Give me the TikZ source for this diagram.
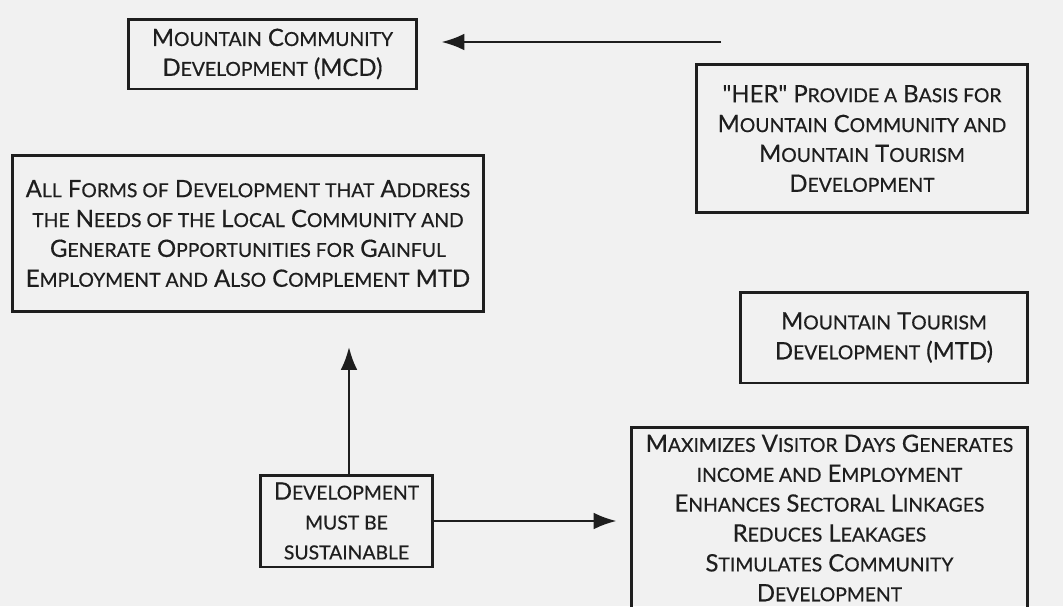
\documentclass[tikz,border=0pt]{standalone}
\usepackage{fontspec}
\setmainfont{Lato}
\newfontfamily\boxfont{Lato}[FakeBold=0.5]
\usetikzlibrary{arrows.meta}

\definecolor{paper}{RGB}{241,241,241}
\definecolor{ink}{RGB}{30,30,30}

% small caps by hand: capitals at full size, the rest smaller
\newcommand\lc[1]{{\fontsize{11}{17}\selectfont #1}}

\tikzset{
  box/.style={draw=ink, line width=1.7pt, align=center, inner sep=0pt,
    text=ink, font=\boxfont\fontsize{13.6}{17}\selectfont},
  arr/.style={draw=ink, line width=1.4pt, -{Latex[length=13pt,width=9.5pt]}}
}

\begin{document}
\begin{tikzpicture}[x=0.02cm, y=-0.02cm]
    % page
    \fill[paper] (0,0) rectangle (1063,606);
    \clip (0,0) rectangle (1063,606);

    % Boxes
    \node[box, minimum width=5.78cm, minimum height=1.4cm] (mcd) at (272.5,54)
      {M\lc{OUNTAIN} C\lc{OMMUNITY}\\ D\lc{EVELOPMENT} (MCD)};
    \node[box, minimum width=6.64cm, minimum height=2.98cm] (her) at (862,138.5)
      {\textquotedbl HER\textquotedbl{} P\lc{ROVIDE A} B\lc{ASIS FOR}\\ M\lc{OUNTAIN} C\lc{OMMUNITY AND}\\
       M\lc{OUNTAIN} T\lc{OURISM}\\ D\lc{EVELOPMENT}};
    \node[box, minimum width=9.44cm, minimum height=3.14cm] (forms) at (248,233.5)
      {A\lc{LL} F\lc{ORMS OF} D\lc{EVELOPMENT THAT} A\lc{DDRESS}\\
       \lc{THE} N\lc{EEDS OF THE} L\lc{OCAL} C\lc{OMMUNITY AND}\\
       G\lc{ENERATE} O\lc{PPORTUNITIES FOR} G\lc{AINFUL}\\
       E\lc{MPLOYMENT AND} A\lc{LSO} C\lc{OMPLEMENT} MTD};
    \node[box, minimum width=5.76cm, minimum height=1.82cm] (mtd) at (884,337.5)
      {M\lc{OUNTAIN} T\lc{OURISM}\\ D\lc{EVELOPMENT} (MTD)};
    \node[box, minimum width=7.94cm, minimum height=3.62cm] (maxim) at (829.5,518)
      {M\lc{AXIMIZES} V\lc{ISITOR} D\lc{AYS} G\lc{ENERATES}\\
       \lc{INCOME AND} E\lc{MPLOYMENT}\\
       E\lc{NHANCES} S\lc{ECTORAL} L\lc{INKAGES}\\
       R\lc{EDUCES} L\lc{EAKAGES}\\
       S\lc{TIMULATES} C\lc{OMMUNITY}\\
       D\lc{EVELOPMENT}};
    \node[box, minimum width=3.46cm, minimum height=1.84cm] (sust) at (346.5,521)
      {D\lc{EVELOPMENT}\\ \lc{MUST BE}\\ \lc{SUSTAINABLE}};

    % Arrows
    \coordinate (herTail) at (721,42);
    \coordinate (upTip) at (349,347);
    \draw[arr, shorten >=0.46cm] (herTail) -- (herTail -| mcd.east);
    \draw[arr] (sust.north -| upTip) -- (upTip);
    \draw[arr, shorten >=0.26cm] (sust.east) -- (sust.east -| maxim.west);
\end{tikzpicture}
\end{document}
